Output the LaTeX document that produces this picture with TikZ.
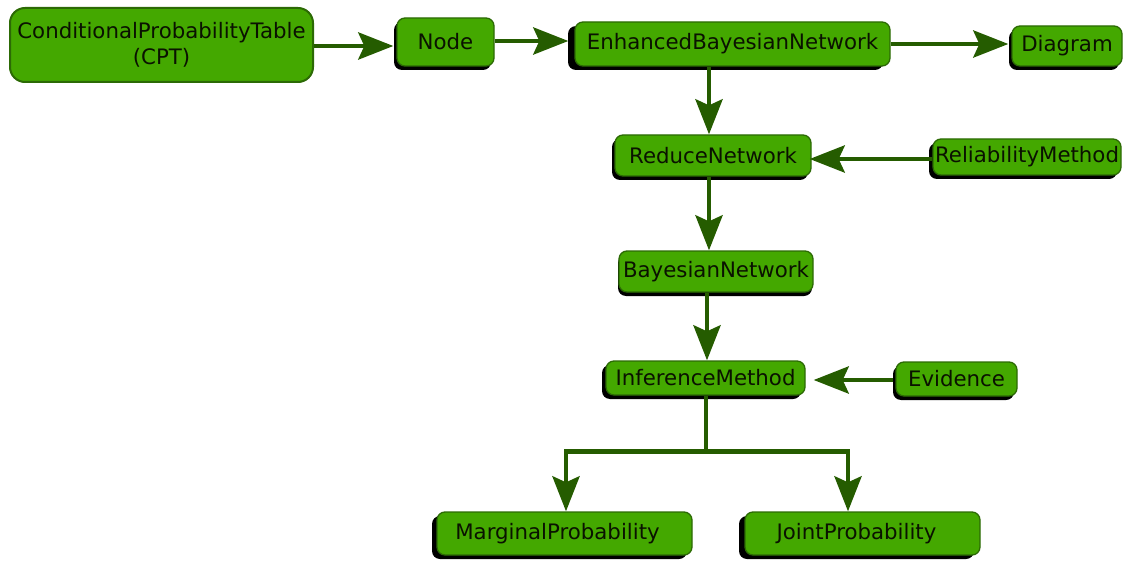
\documentclass[tikz,border=0pt]{standalone}
\usepackage{fontspec}
\setmainfont{DejaVu Sans}
\usetikzlibrary{arrows.meta,shadows,calc}
\definecolor{boxfill}{HTML}{44A800}
\definecolor{boxline}{HTML}{2C6A05}
\definecolor{arrcol}{HTML}{255C00}
\definecolor{txt}{HTML}{0A1200}
\tikzset{
  box/.style={draw=boxline, line width=1.3pt, fill=boxfill, rounded corners=8pt,
    text=txt, inner sep=0pt, align=center,
    font=\fontsize{21.3pt}{26pt}\selectfont},
  shad/.style={drop shadow={shadow xshift=#1, shadow yshift=-4pt, fill=black, opacity=1}},
  arr/.style={draw=arrcol, line width=4.8pt, -{Stealth[length=35pt,width=27pt,inset=6pt]}},
  ln/.style={draw=arrcol, line width=4.8pt}
}
\begin{document}
\begin{tikzpicture}[x=1pt,y=-1pt]
\useasboundingbox (0,0) rectangle (1123,561);
% nodes
\node[box, rounded corners=15pt, line width=2pt, minimum width=303pt, minimum height=74pt] (cpt) at (161.5,45) {ConditionalProbabilityTable\\(CPT)};
\node[box, shad=-3pt, minimum width=97pt, minimum height=48pt] (nd) at (445.5,42) {Node};
\node[box, shad=-7pt, minimum width=315pt, minimum height=44pt] (ebn) at (732.5,44) {EnhancedBayesianNetwork};
\node[box, shad=-3pt, minimum width=110pt, minimum height=40pt] (dg) at (1067,46) {Diagram};
\node[box, shad=-3pt, minimum width=196pt, minimum height=41pt] (rn) at (713,155.5) {ReduceNetwork};
\node[box, shad=-4pt, minimum width=188pt, minimum height=36pt] (rm) at (1027,157) {ReliabilityMethod};
\node[box, shad=-1pt, minimum width=194pt, minimum height=41pt] (bn) at (716,271.5) {BayesianNetwork};
\node[box, shad=-4pt, minimum width=199pt, minimum height=34pt] (im) at (705.5,378) {InferenceMethod};
\node[box, shad=-3pt, minimum width=121pt, minimum height=34pt] (ev) at (956.5,379) {Evidence};
\node[box, shad=-5pt, minimum width=255pt, minimum height=43pt] (mp) at (564.5,533.5) {\hspace*{-14pt}MarginalProbability};
\node[box, shad=-6pt, minimum width=235pt, minimum height=43pt] (jp) at (862.5,533.5) {\hspace*{-12pt}JointProbability};
% connectors
\draw[arr, shorten >=3pt] ([yshift=-1pt]cpt.east) -- ([yshift=-1pt]nd.west |- cpt.east);
\draw[arr, shorten >=6pt] ([yshift=1pt]nd.east) -- ([yshift=1pt]ebn.west |- nd.east);
\draw[arr, shorten >=3pt] (ebn.east) -- (dg.west |- ebn.east);
\draw[arr] ([xshift=-4pt]ebn.south -| rn.north) -- ([xshift=-4pt]rn.north);
\draw[arr, shorten >=-2pt] ([yshift=-2pt]rm.west) -- ([yshift=-2pt]rn.east |- rm.west);
\draw[arr] ([xshift=-4pt]rn.south) -- ([xshift=-4pt]bn.north -| rn.south);
\draw[arr] ([xshift=1.5pt]bn.south -| im.north) -- ([xshift=1.5pt]im.north);
\draw[arr, shorten >=8pt, shorten <=2pt] ([yshift=-1pt]ev.west) -- ([yshift=-1pt]im.east |- ev.west);
\coordinate (split) at ($(im.south)+(0.5,56)$);
\draw[ln] ([xshift=0.5pt]im.south) -- (split);
\draw[arr] (split) -| ([xshift=1.5pt]mp.north);
\draw[arr] (split) -| ([xshift=-14.5pt]jp.north);
\end{tikzpicture}
\end{document}
